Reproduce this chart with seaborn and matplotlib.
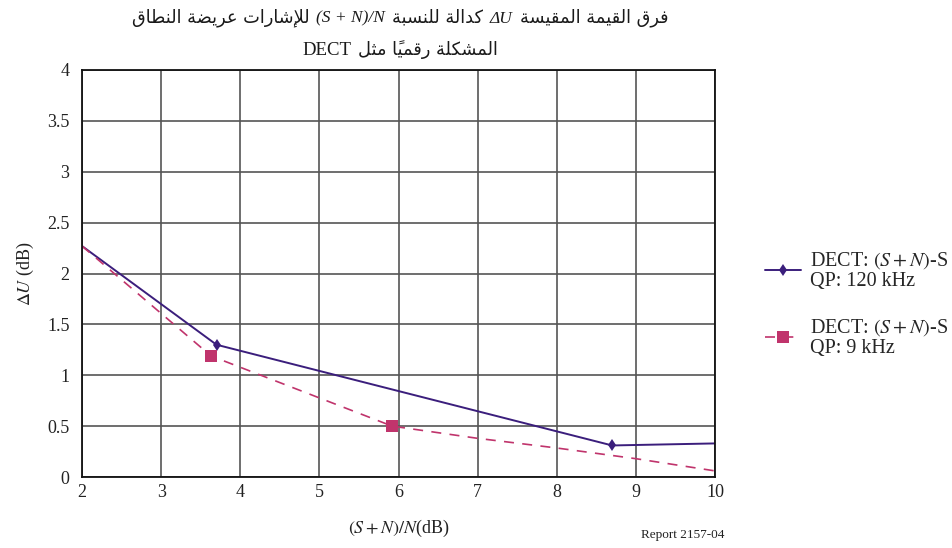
import matplotlib
matplotlib.use('Agg')
import matplotlib.pyplot as plt
import seaborn as sns
import pandas as pd
from matplotlib.offsetbox import TextArea, HPacker, AnchoredOffsetbox

# data
x_wide = [2, 3.7, 8.7, 10]
y_wide = [2.27, 1.30, 0.31, 0.33]
x_narrow = [2, 3.63, 5.92, 7, 8, 9, 10]
y_narrow = [2.27, 1.19, 0.50, 0.38, 0.285, 0.18, 0.06]
label_wide = 'DECT: $(S + N)$-S\nQP: 120 kHz'
label_narrow = 'DECT: $(S + N)$-S\nQP: 9 kHz'
x_ticks = [2, 3, 4, 5, 6, 7, 8, 9, 10]
y_ticks = [0, 0.5, 1, 1.5, 2, 2.5, 3, 3.5, 4]
y_tick_labels = ['0', '0.5', '1', '1.5', '2', '2.5', '3', '3.5', '4']

title_a = 'فرق القيمة المقيسة'
title_b = 'كدالة للنسبة'
title_c = 'للإشارات عريضة النطاق'
title_d = 'المشكلة رقمياً مثل'

# --- minimal arabic shaping (matplotlib does no shaping / bidi) ---
def four(b):
    return (chr(b), chr(b + 1), chr(b + 2), chr(b + 3))

def two(b):
    return (chr(b), chr(b + 1), None, None)

FORMS = {
    'ا': two(0xFE8D), 'أ': two(0xFE83), 'إ': two(0xFE87), 'آ': two(0xFE81),
    'ب': four(0xFE8F), 'ة': two(0xFE93), 'ت': four(0xFE95), 'ث': four(0xFE99),
    'ج': four(0xFE9D), 'ح': four(0xFEA1), 'خ': four(0xFEA5), 'د': two(0xFEA9),
    'ذ': two(0xFEAB), 'ر': two(0xFEAD), 'ز': two(0xFEAF), 'س': four(0xFEB1),
    'ش': four(0xFEB5), 'ص': four(0xFEB9), 'ض': four(0xFEBD), 'ط': four(0xFEC1),
    'ظ': four(0xFEC5), 'ع': four(0xFEC9), 'غ': four(0xFECD), 'ف': four(0xFED1),
    'ق': four(0xFED5), 'ك': four(0xFED9), 'ل': four(0xFEDD), 'م': four(0xFEE1),
    'ن': four(0xFEE5), 'ه': four(0xFEE9), 'و': two(0xFEED), 'ى': two(0xFEEF),
    'ي': four(0xFEF1),
    'لا': two(0xFEFB), 'لأ': two(0xFEF7), 'لإ': two(0xFEF9), 'لآ': two(0xFEF5),
}
MARKS = set(chr(c) for c in range(0x064B, 0x0653))


def shape_word(word):
    clusters = []
    i = 0
    while i < len(word):
        c = word[i]
        if c in MARKS and clusters:
            clusters[-1][1] += c
            i += 1
            continue
        if c == 'ل' and i + 1 < len(word) and 'ل' + word[i + 1] in FORMS:
            c = 'ل' + word[i + 1]
            i += 1
        clusters.append([c, ''])
        i += 1
    out = []
    for k, (c, m) in enumerate(clusters):
        f = FORMS.get(c)
        if f is None:
            out.append(c + m)
            continue
        prev = k > 0 and clusters[k - 1][0] in FORMS and FORMS[clusters[k - 1][0]][2] is not None
        nxt = k + 1 < len(clusters) and clusters[k + 1][0] in FORMS and f[2] is not None
        if prev and nxt:
            g = f[3]
        elif prev:
            g = f[1]
        elif nxt:
            g = f[2]
        else:
            g = f[0]
        out.append(g + m)
    return out


def visual(phrase):
    return ' '.join(''.join(reversed(shape_word(w))) for w in reversed(phrase.split(' ')))


sns.set_theme(style='whitegrid')
plt.rcParams['font.family'] = ['Liberation Serif', 'DejaVu Sans']
plt.rcParams['mathtext.fontset'] = 'stix'

fig = plt.figure(figsize=(9.52, 5.48), dpi=100)
ax = fig.add_axes([82 / 952, 1 - 477 / 548, (715 - 82) / 952, (477 - 70) / 548])

df_wide = pd.DataFrame({'x': x_wide, 'y': y_wide})
df_narrow = pd.DataFrame({'x': x_narrow, 'y': y_narrow})

sns.lineplot(data=df_wide, x='x', y='y', ax=ax, color='#3b1e7c', lw=1.4,
             marker='d', markersize=6, markevery=[1, 2], markeredgewidth=0,
             label=label_wide)
sns.lineplot(data=df_narrow, x='x', y='y', ax=ax, color='#c0346c', lw=1.2,
             linestyle=(0, (6, 5)), marker='s', markersize=8, markevery=[1, 2],
             markeredgewidth=0, label=label_narrow)

ax.set_xlim(2, 10)
ax.set_ylim(0, 4)
ax.set_xticks(x_ticks)
ax.set_xticklabels([str(t) for t in x_ticks])
ax.set_yticks(y_ticks)
ax.set_yticklabels(y_tick_labels)
ax.tick_params(length=0, labelsize=13, colors='#222222')
ax.tick_params(axis='y', pad=9)
ax.tick_params(axis='x', pad=5)
ax.grid(True, color='#555555', lw=1.2)
for sp in ax.spines.values():
    sp.set_color('#111111')
    sp.set_linewidth(1.3)

ax.set_xlabel('$(S + N)/N$(dB)', fontsize=13, labelpad=12, color='#222222')
ax.set_ylabel(r'$\Delta U$ (dB)', fontsize=13, labelpad=8, color='#222222')

leg = ax.legend(loc='upper left', bbox_to_anchor=(755 / 952, 1 - 240 / 548),
                bbox_transform=fig.transFigure, frameon=False, fontsize=14.5,
                handlelength=1.8, handletextpad=0.45, labelspacing=1.3,
                borderpad=0)
for t in leg.get_texts():
    t.set_linespacing(1.05)

# title: right-to-left, laid out piece by piece
ar = dict(family='DejaVu Sans', size=12.8, color='#1a1a1a')
it = dict(family='Liberation Serif', style='italic', size=12.5, color='#1a1a1a')
rm = dict(family='Liberation Serif', size=13.5, color='#1a1a1a')
line1 = [(visual(title_c), ar), ('(S + N)/N', it), (visual(title_b), ar),
         ('ΔU', it), (visual(title_a), ar)]
line2 = [('DECT', rm), (visual(title_d), ar)]
for pieces, yy in [(line1, 1 - 18 / 548), (line2, 1 - 50 / 548)]:
    box = HPacker(children=[TextArea(s, textprops=p) for s, p in pieces],
                  align='baseline', pad=0, sep=5)
    fig.add_artist(AnchoredOffsetbox(loc='center', child=box, frameon=False,
                                     bbox_to_anchor=(400 / 952, yy),
                                     bbox_transform=fig.transFigure,
                                     pad=0, borderpad=0))

fig.text(683 / 952, 1 - 535 / 548, 'Report 2157-04', fontsize=9.5,
         ha='center', va='center', color='#222222')

fig.savefig('out.png', dpi=100)
